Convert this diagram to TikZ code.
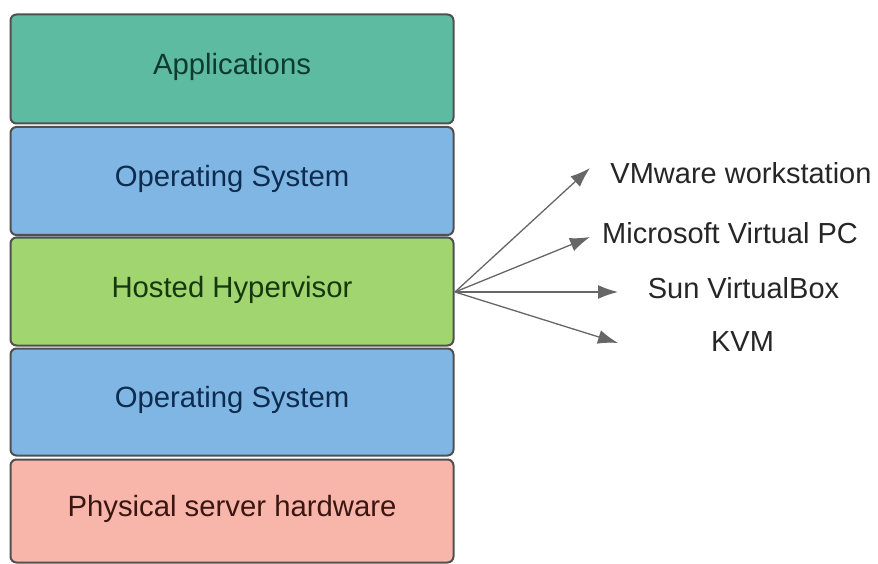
\documentclass[tikz,border=0pt]{standalone}
\usepackage{fontspec}
\setmainfont{Liberation Sans}
\usetikzlibrary{arrows.meta}
\definecolor{cteal}{HTML}{5DBBA2}
\definecolor{cblue}{HTML}{80B6E3}
\definecolor{cgreen}{HTML}{A0D56F}
\definecolor{cpink}{HTML}{F8B5AA}
\definecolor{tteal}{HTML}{0F3A2E}
\definecolor{tblue}{HTML}{0E2C50}
\definecolor{tgreen}{HTML}{16380D}
\definecolor{tpink}{HTML}{3A1612}
\definecolor{cborder}{HTML}{505050}
\definecolor{carrow}{HTML}{666666}
\begin{document}
\begin{tikzpicture}[x=1pt,y=-1pt,
  layer/.style={draw=cborder, line width=2pt, rounded corners=6pt,
    minimum width=443pt, inner sep=0pt, text height=21pt, text depth=10pt,
    font=\fontsize{29.3}{33}\selectfont},
  lbl/.style={inner sep=0pt, text=black!85, font=\fontsize{29}{33}\selectfont},
  link/.style={draw=carrow, line width=1.3pt, -{Latex[length=20pt,width=14pt]}}]
\useasboundingbox (0,0) rectangle (878,564);
\node[layer, fill=cteal, text=tteal, minimum height=109pt] (app) at (232,69) {Applications};
\node[layer, fill=cblue, text=tblue, minimum height=108pt] (os1) at (232,181) {Operating System};
\node[layer, fill=cgreen, text=tgreen, minimum height=108pt] (hyp) at (232,291.5) {Hosted Hypervisor};
\node[layer, fill=cblue, text=tblue, minimum height=107pt] (os2) at (232,402) {Operating System};
\node[layer, fill=cpink, text=tpink, minimum height=103pt] (hw) at (232,511) {Physical server hardware};
\node[lbl] (vmw) at (741,173) {VMware workstation};
\node[lbl] (mvp) at (730,233) {Microsoft Virtual PC};
\node[lbl] (svb) at (743.5,288) {Sun VirtualBox};
\node[lbl] (kvm) at (742.5,342) {KVM};
\coordinate (t1) at (590,168);
\coordinate (t2) at (590,237);
\coordinate (t3) at (618,292);
\coordinate (t4) at (618,343);
\coordinate (src) at (455,292);
\draw[link] (src) -- (t1);
\draw[link] (src) -- (t2);
\draw[link] (src) -- (t3);
\draw[link] (src) -- (t4);
\end{tikzpicture}
\end{document}
